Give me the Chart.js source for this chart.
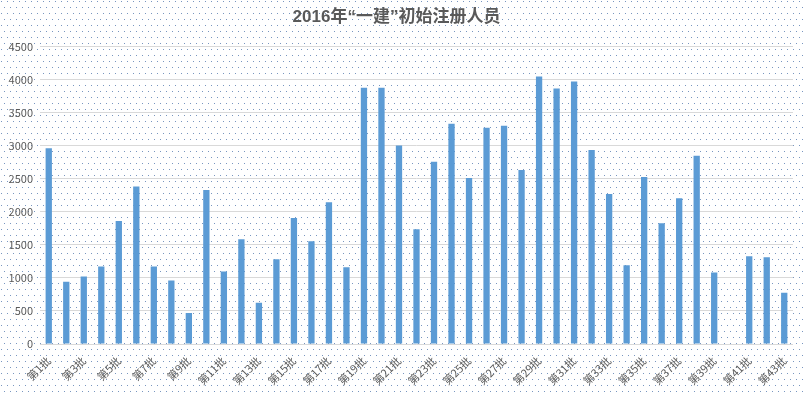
<!DOCTYPE html>
<html>
<head>
<meta charset="utf-8">
<script src="https://cdn.jsdelivr.net/npm/chart.js@4.4.0/dist/chart.umd.min.js"></script>
<style>
  html, body { margin: 0; padding: 0; background: #fff; }
  #wrap { width: 805px; height: 394px; }
</style>
</head>
<body>
<div id="wrap"><canvas id="myChart" width="805" height="394"></canvas></div>
<script>
// data
const titleText = '2016年“一建”初始注册人员';

const batches = [];
for (let i = 1; i <= 43; i++) batches.push('第' + i + '批');

const registered = [
  2960, 940, 1020, 1170, 1860, 2380, 1170, 960, 470, 2330,
  1095, 1585, 625, 1280, 1905, 1555, 2145, 1160, 3875, 3875,
  3000, 1735, 2755, 3330, 2510, 3270, 3300, 2630, 4045, 3865,
  3970, 2935, 2270, 1190, 2525, 1825, 2205, 2845, 1080, 0,
  1325, 1310, 775
];

const yTicks = [0, 500, 1000, 1500, 2000, 2500, 3000, 3500, 4000, 4500];

// dotted background like the excel chart area
const dotBg = {
  id: 'dotBg',
  beforeDraw(chart) {
    const c = chart.ctx;
    const tile = document.createElement('canvas');
    tile.width = 6; tile.height = 12;
    const t = tile.getContext('2d');
    t.fillStyle = '#ffffff';
    t.fillRect(0, 0, 6, 12);
    t.fillStyle = '#7896c0';
    t.fillRect(1, 1, 1, 1);
    t.fillRect(4, 7, 1, 1);
    c.save();
    c.fillStyle = c.createPattern(tile, 'repeat');
    c.fillRect(0, 0, chart.width, chart.height);
    c.restore();
  }
};

const font = "'Noto Sans CJK SC', 'Noto Sans', sans-serif";

const config = {
  type: 'bar',
  data: {
    labels: batches,
    datasets: [{
      label: '注册人员',
      data: registered,
      backgroundColor: '#5b9bd5',
      borderWidth: 0,
      categoryPercentage: 1,
      barPercentage: 0.36
    }]
  },
  options: {
    responsive: false,
    animation: false,
    devicePixelRatio: 1,
    layout: {
      padding: { left: 0, right: 12, top: 0, bottom: 0 }
    },
    plugins: {
      legend: { display: false },
      tooltip: { enabled: false },
      title: {
        display: true,
        text: titleText,
        color: '#595959',
        font: { family: "'Liberation Sans', 'Noto Sans CJK SC', sans-serif", size: 17, weight: 'bold' },
        padding: { top: 7, bottom: 19 }
      }
    },
    scales: {
      x: {
        grid: { display: false },
        border: { display: false },
        ticks: {
          autoSkip: false,
          maxRotation: 45,
          minRotation: 45,
          color: '#595959',
          padding: 2,
          font: { family: font, size: 11 },
          callback: function (value, index) {
            return index % 2 === 0 ? batches[index] : '';
          }
        },
        afterFit: function (scale) { scale.height = 50; }
      },
      y: {
        min: 0,
        max: 4500,
        afterBuildTicks: function (scale) {
          scale.ticks = yTicks.map(v => ({ value: v }));
        },
        grid: { color: '#d9d9d9', lineWidth: 1, drawTicks: false },
        border: { display: false },
        ticks: {
          color: '#595959',
          padding: 7,
          font: { family: font, size: 11 },
          callback: function (value) { return String(value); }
        },
        afterFit: function (scale) { scale.width = 40; }
      }
    }
  },
  plugins: [dotBg]
};

const myChart = new Chart(document.getElementById('myChart'), config);
</script>
</body>
</html>
